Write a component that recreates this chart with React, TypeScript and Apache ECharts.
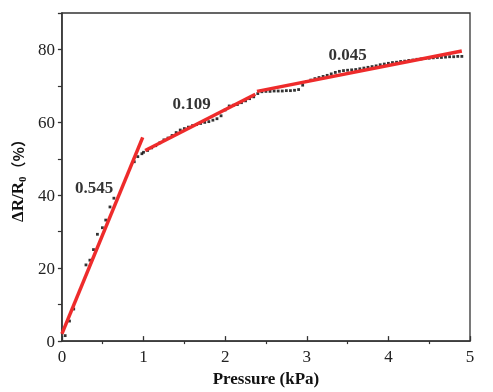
import React, { useEffect, useRef } from 'react';
import * as echarts from 'echarts';

// Measured points: pressure (kPa) and relative resistance change (%)
const pressure = [
  0.04, 0.093, 0.145, 0.295, 0.343, 0.387, 0.435, 0.496, 0.537, 0.589, 0.637, 0.887, 0.93, 0.98,
  1.0, 1.05, 1.1, 1.15, 1.2, 1.25, 1.3, 1.35, 1.4, 1.45, 1.5, 1.55, 1.6, 1.65, 1.7, 1.75, 1.8, 1.85, 1.9, 1.95,
  2.0, 2.05, 2.1, 2.15, 2.2, 2.25, 2.3, 2.35, 2.4,
  2.45, 2.5, 2.55, 2.6, 2.65, 2.7, 2.75, 2.8, 2.85, 2.9, 2.95,
  3.0, 3.05, 3.1, 3.15, 3.2, 3.25, 3.3, 3.35, 3.4, 3.45, 3.5, 3.55, 3.6, 3.65, 3.7, 3.75, 3.8, 3.85, 3.9, 3.95,
  4.0, 4.05, 4.1, 4.15, 4.2, 4.25, 4.3, 4.35, 4.4, 4.45, 4.5, 4.55, 4.6, 4.65, 4.7, 4.75, 4.8, 4.85, 4.9,
];
const response = [
  1.5, 5.5, 8.8, 20.9, 22.2, 25.1, 29.3, 31.1, 33.2, 36.8, 39.2, 49.2, 50.6, 51.4,
  51.8, 52.3, 53.0, 53.6, 54.4, 55.2, 55.7, 56.4, 57.2, 57.9, 58.3, 58.7, 59.1, 59.4, 59.7, 60.0, 60.2, 60.6, 61.0, 61.8,
  63.4, 64.5, 64.7, 64.9, 65.4, 65.9, 66.5, 67.0, 67.9,
  68.4, 68.5, 68.5, 68.6, 68.6, 68.6, 68.7, 68.7, 68.8, 69.0, 70.2,
  71.2, 71.6, 72.0, 72.3, 72.6, 72.9, 73.3, 73.7, 74.0, 74.2, 74.3, 74.4, 74.5, 74.7, 74.9, 75.1, 75.3, 75.5, 75.8, 76.0,
  76.2, 76.4, 76.5, 76.7, 76.8, 77.0, 77.1, 77.3, 77.4, 77.5, 77.6, 77.7, 77.8, 77.8, 77.9, 78.0, 78.0, 78.1, 78.1,
];

// Linear fits (end points)
const fit1X = [0, 0.99];
const fit1Y = [2.0, 55.9];
const fit2X = [1.02, 2.37];
const fit2Y = [52.3, 67.7];
const fit3X = [2.39, 4.9];
const fit3Y = [68.5, 79.6];

// Slope annotations
const slopeLabels = ['0.545', '0.109', '0.045'];
const slopeLabelX = [0.395, 1.59, 3.5];
const slopeLabelY = [42.2, 65.3, 78.5];

const SERIF = '"Liberation Serif", "Times New Roman", serif';

export default function App() {
  const ref = useRef<HTMLDivElement>(null);
  useEffect(() => {
    document.body.style.margin = '0';
    const chart = echarts.init(ref.current!, null, { renderer: 'svg' });
    const fitLine = (xs: number[], ys: number[]) => ({
      type: 'line',
      data: xs.map((x, i) => [x, ys[i]]),
      showSymbol: false,
      symbol: 'none',
      lineStyle: { color: '#ee2b2b', width: 3.5 },
      z: 5,
      silent: true,
    });
    chart.setOption({
      animation: false,
      grid: {
        left: 57,
        right: 23,
        top: 13,
        bottom: 48,
        show: true,
        borderColor: '#333',
        borderWidth: 1.3,
        backgroundColor: 'transparent',
      },
      xAxis: {
        type: 'value',
        min: 0,
        max: 5,
        interval: 1,
        name: 'Pressure (kPa)',
        nameLocation: 'middle',
        nameGap: 25,
        nameTextStyle: { fontFamily: SERIF, fontWeight: 'bold', fontSize: 17, color: '#111' },
        axisLine: { lineStyle: { color: '#333', width: 1.5 } },
        axisTick: { inside: true, length: 5, lineStyle: { color: '#333', width: 1.3 } },
        minorTick: { show: true, splitNumber: 2, length: -3, lineStyle: { color: '#333', width: 1.2 } },
        axisLabel: { fontFamily: SERIF, fontSize: 17, color: '#222', margin: 7 },
        splitLine: { show: false },
      },
      yAxis: {
        type: 'value',
        min: 0,
        max: 90,
        interval: 20,
        name: '{a|ΔR/R}{s|0}{c|（%）}',
        nameLocation: 'middle',
        nameRotate: 90,
        nameGap: 33,
        nameTextStyle: {
          rich: {
            a: { fontFamily: SERIF, fontWeight: 'bold', fontSize: 17, color: '#111', lineHeight: 20 },
            s: { fontFamily: SERIF, fontWeight: 'bold', fontSize: 11, color: '#111', lineHeight: 20, verticalAlign: 'bottom', padding: [8, 0, 0, 0] },
            c: { fontFamily: '"Noto Sans CJK SC", sans-serif', fontWeight: 'bold', fontSize: 15, color: '#111', lineHeight: 20 },
          },
        },
        axisLine: { lineStyle: { color: '#333', width: 1.5 } },
        axisTick: { inside: false, length: 4, lineStyle: { color: '#333', width: 1.3 } },
        minorTick: { show: true, splitNumber: 2, length: 4, lineStyle: { color: '#333', width: 1.2 } },
        axisLabel: { fontFamily: SERIF, fontSize: 17, color: '#222', margin: 7, showMaxLabel: false },
        splitLine: { show: false },
      },
      series: [
        {
          type: 'scatter',
          data: pressure.map((x, i) => [x, response[i]]),
          symbol: 'rect',
          symbolSize: 2.8,
          itemStyle: { color: '#000' },
          z: 3,
          silent: true,
        },
        fitLine(fit1X, fit1Y),
        fitLine(fit2X, fit2Y),
        fitLine(fit3X, fit3Y),
        {
          type: 'scatter',
          data: slopeLabels.map((t, i) => ({ value: [slopeLabelX[i], slopeLabelY[i]], name: t })),
          symbolSize: 0,
          silent: true,
          z: 6,
          label: {
            show: true,
            position: 'inside',
            formatter: (p: any) => p.name,
            fontFamily: SERIF,
            fontWeight: 'bold',
            fontSize: 17,
            color: '#000',
            textBorderWidth: 0,
          },
        },
      ],
    });
    return () => chart.dispose();
  }, []);
  return <div ref={ref} style={{ position: 'fixed', left: 0, top: 0, width: 493, height: 392 }} />;
}
